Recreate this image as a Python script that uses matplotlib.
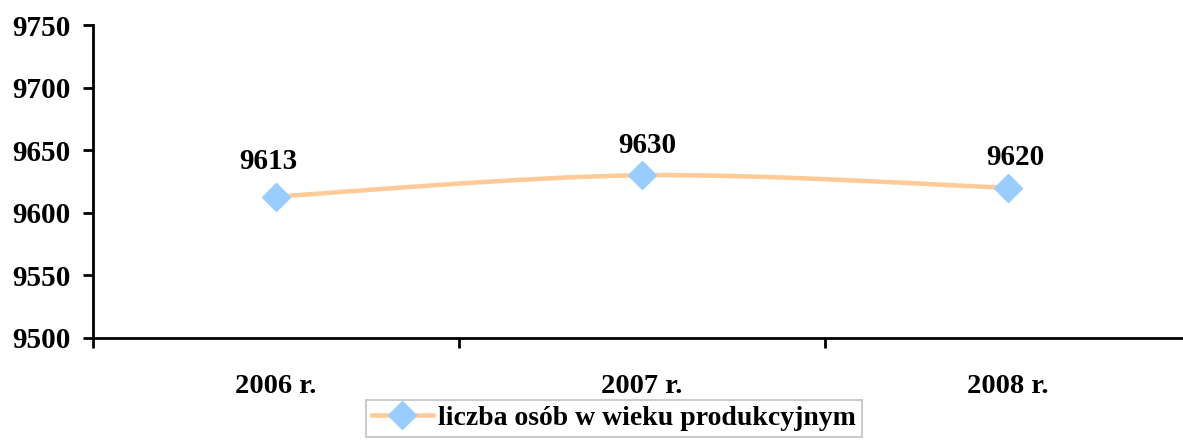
import matplotlib
matplotlib.use('Agg')
import matplotlib.pyplot as plt
from matplotlib.path import Path
from matplotlib.patches import PathPatch
from matplotlib.lines import Line2D

years = ['2006 r.', '2007 r.', '2008 r.']
values = [9613, 9630, 9620]
series_name = 'liczba osób w wieku produkcyjnym'

# label nudges in pixels (as placed in the original)
label_dx = [-8, 5, 7]
label_dy = [22, 16, 17]

LINE_COLOR = '#FFCC99'
MARKER_COLOR = '#99CCFF'

plt.rcParams['font.family'] = ['Liberation Serif', 'DejaVu Serif']
plt.rcParams['font.weight'] = 'bold'
plt.rcParams['font.size'] = 21

fig = plt.figure(figsize=(11.83, 4.43), dpi=100)
ax = fig.add_axes([93 / 1183, 105 / 443, 1098 / 1183, 313 / 443])

x = list(range(len(values)))

# smoothed line like Excel (bezier through the points)
verts = [(x[0], values[0])]
codes = [Path.MOVETO]
for i in range(len(x) - 1):
    p0 = (x[max(i - 1, 0)], values[max(i - 1, 0)])
    p1 = (x[i], values[i])
    p2 = (x[i + 1], values[i + 1])
    p3 = (x[min(i + 2, len(x) - 1)], values[min(i + 2, len(x) - 1)])
    c1 = (p1[0] + (p2[0] - p0[0]) / 6, p1[1] + (p2[1] - p0[1]) / 6)
    c2 = (p2[0] - (p3[0] - p1[0]) / 6, p2[1] - (p3[1] - p1[1]) / 6)
    verts += [c1, c2, p2]
    codes += [Path.CURVE4] * 3
ax.add_patch(PathPatch(Path(verts, codes), facecolor='none', edgecolor=LINE_COLOR,
                       lw=3.3, capstyle='round', zorder=2))
ax.plot(x, values, linestyle='none', marker='D', markersize=14,
        color=MARKER_COLOR, zorder=3)

px = 72 / 100
for xi, v, dx, dy in zip(x, values, label_dx, label_dy):
    ax.annotate(str(v), (xi, v), xytext=(dx * px, dy * px), textcoords='offset points',
                ha='center', va='bottom', fontweight='bold', fontsize=21)

ax.set_ylim(9500, 9750)
ax.set_yticks(range(9500, 9751, 50))
ax.set_xlim(-0.5, 2.5)
ax.set_xticks([-0.5, 0.5, 1.5, 2.5])
ax.set_xticklabels([])
ax.set_xticks(x, minor=True)
ax.set_xticklabels(years, minor=True, fontsize=20.5)
ax.tick_params(axis='x', which='minor', length=0, pad=26)
ax.tick_params(axis='both', which='major', length=7, width=2, direction='out')
ax.tick_params(axis='y', pad=9)

for s in ['top', 'right']:
    ax.spines[s].set_visible(False)
for s in ['left', 'bottom']:
    ax.spines[s].set_linewidth(2)

handle = Line2D([], [], color=LINE_COLOR, lw=3.3, marker='D', markersize=14,
                markerfacecolor=MARKER_COLOR, markeredgecolor=MARKER_COLOR)
leg = fig.legend([handle], [series_name], loc='upper center',
                 bbox_to_anchor=(614 / 1183, 1 - 400 / 443), fontsize=20,
                 frameon=True, fancybox=False, handlelength=2.2,
                 handletextpad=0.2, borderpad=0.2, borderaxespad=0)
leg.get_frame().set_edgecolor('#C0C0C0')
leg.get_frame().set_linewidth(1.5)

fig.savefig('out.png', dpi=100)
